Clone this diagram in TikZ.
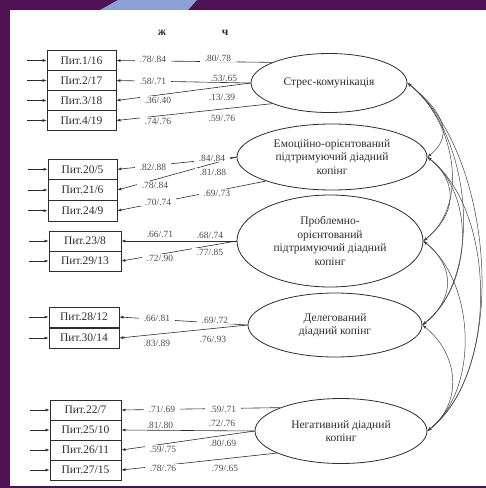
\documentclass[tikz,border=0pt]{standalone}
\usepackage{fontspec}
\setmainfont{Liberation Serif}
\usetikzlibrary{arrows.meta,shapes.geometric}
\definecolor{frame}{RGB}{78,18,84}
\definecolor{glow}{RGB}{140,160,215}
\definecolor{ink}{RGB}{45,45,45}
\begin{document}
\begin{tikzpicture}[x=1pt,y=-1pt,
  item/.style={draw=ink,line width=0.8pt,inner sep=0pt,minimum height=20pt,font=\fontsize{11.5}{13}\selectfont,text=ink},
  factor/.style={draw=ink,line width=0.8pt,ellipse,inner sep=0pt,align=center,font=\fontsize{11.5}{13.5}\selectfont,text=ink},
  load/.style={fill=white,inner xsep=5pt,inner ysep=1pt,font=\fontsize{9.5}{10}\selectfont,text=ink!85},
  inarrow/.style={draw=ink,line width=0.6pt,-{Latex[length=4pt,width=3pt]}},
  cov/.style={draw=ink!90,line width=0.5pt,{Latex[length=4pt,width=3pt]}-{Latex[length=4pt,width=3pt]}},
  hdr/.style={font=\bfseries\fontsize{11.5}{12}\selectfont,text=ink}]
\useasboundingbox (0,0) rectangle (486,488);
\fill[frame] (0,0) rectangle (486,488);
\fill[glow] (118,0) -- (197,0) -- (188,10) -- (100,10) -- cycle;
\fill[white] (10,10) rectangle (486,486);

% headers
\node[hdr] (hz) at (162,33) {ж};
\node[hdr] (hc) at (225,33) {ч};

% item boxes
\node[item,minimum width=69pt] (b1) at (81.5,60.5) {Пит.1/16};
\node[item,minimum width=69pt] (b2) at (81.5,80.5) {Пит.2/17};
\node[item,minimum width=69pt] (b3) at (81.5,100.5) {Пит.3/18};
\node[item,minimum width=69pt] (b4) at (81.5,120.5) {Пит.4/19};
\node[item,minimum width=69pt,minimum height=20.7pt] (b5) at (82.5,169.3) {Пит.20/5};
\node[item,minimum width=69pt,minimum height=20.7pt] (b6) at (82.5,190) {Пит.21/6};
\node[item,minimum width=69pt,minimum height=20.7pt] (b7) at (82.5,210.7) {Пит.24/9};
\node[item,minimum width=72pt] (b8) at (85,241) {Пит.23/8};
\node[item,minimum width=72pt] (b9) at (85,261) {Пит.29/13};
\node[item,minimum width=70pt] (b10) at (84,317) {Пит.28/12};
\node[item,minimum width=70pt] (b11) at (84,338) {Пит.30/14};
\node[item,minimum width=71pt] (b12) at (85.5,410) {Пит.22/7};
\node[item,minimum width=71pt] (b13) at (85.5,430) {Пит.25/10};
\node[item,minimum width=71pt] (b14) at (85.5,450) {Пит.26/11};
\node[item,minimum width=71pt] (b15) at (85.5,470) {Пит.27/15};

% input arrows
\foreach \b in {b1,b2,b3,b4,b5,b6,b7,b8,b9,b10,b11,b12,b13,b14,b15}{
  \coordinate (in\b) at ([xshift=-20pt]\b.west);
  \draw[inarrow] (in\b) -- (\b.west);
}

% factors
\node[factor,minimum width=156pt,minimum height=59pt] (e1) at (329,83) {Стрес-комунікація};
\node[factor,minimum width=190pt,minimum height=66pt] (e2) at (332,157) {Емоційно-орієнтований\\підтримуючий діадний\\копінг};
\node[factor,minimum width=186pt,minimum height=92pt] (e3) at (330,241) {Проблемно-\\орієнтований\\підтримуючий діадний\\копінг};
\node[factor,minimum width=174pt,minimum height=64pt] (e4) at (335,325) {Делегований\\діадний копінг};
\node[factor,minimum width=172pt,minimum height=65pt] (e5) at (341,431) {Негативний діадний\\копінг};

% loadings
\draw[inarrow] (e1.160) -- (b1.east);
\draw[inarrow] (e1.west) -- (b2.east);
\draw[inarrow] (e1.west) -- (b3.east);
\draw[inarrow] (e1.200) -- (b4.east);
\draw[inarrow] (e2.west) -- (b5.east);
\draw[inarrow] (e2.west) -- (b6.east);
\draw[inarrow] (e2.200) -- (b7.east);
\draw[inarrow] (e3.west) -- (b8.east);
\draw[inarrow] (e3.west) -- (b9.east);
\draw[inarrow] (e4.west) -- (b10.east);
\draw[inarrow] (e4.west) -- (b11.east);
\draw[inarrow] (e5.159) -- (b12.east);
\draw[inarrow] (e5.west) -- (b13.east);
\draw[inarrow] (e5.west) -- (b14.east);
\draw[inarrow] (e5.199) -- (b15.east);

% loading labels
\node[load] (l1a) at (153,59) {.78/.84};
\node[load] (l2a) at (153,81) {.58/.71};
\node[load] (l3a) at (158,100) {.36/.40};
\node[load] (l4a) at (158,121) {.74/.76};
\node[load] (l1b) at (218,58) {.80/.78};
\node[load] (l2b) at (224,78) {.53/.65};
\node[load] (l3b) at (222,97) {.13/.39};
\node[load] (l4b) at (222,118) {.59/.76};
\node[load] (l5a) at (153,167) {.82/.88};
\node[load] (l6a) at (155,185) {.78/.84};
\node[load] (l7a) at (158,202) {.70/.74};
\node[load] (l5b) at (212,158) {.84/.84};
\node[load] (l6b) at (213,172) {.81/.88};
\node[load] (l7b) at (217,193) {.69/.73};
\node[load] (l8a) at (160,234) {.66/.71};
\node[load] (l9a) at (160,258) {.72/.90};
\node[load] (l8b) at (210,235) {.68/.74};
\node[load] (l9b) at (210,252) {.77/.85};
\node[load] (l10a) at (157,318) {.66/.81};
\node[load] (l11a) at (157,343) {.83/.89};
\node[load] (l10b) at (215,320) {.69/.72};
\node[load] (l11b) at (213,339) {.76/.93};
\node[load] (l12a) at (162,409) {.71/.69};
\node[load] (l13a) at (160,425) {.81/.80};
\node[load] (l14a) at (163,449) {.59/.75};
\node[load] (l15a) at (163,468) {.78/.76};
\node[load] (l12b) at (223,409) {.59/.71};
\node[load] (l13b) at (222,423) {.72/.76};
\node[load] (l14b) at (223,443) {.80/.69};
\node[load] (l15b) at (225,468) {.79/.65};

% covariances
\draw[cov] (e1.east) .. controls +(30,24) and +(30,-24) .. (e2.east);
\draw[cov] (e1.east) .. controls +(47,38) and +(47,-38) .. (e3.east);
\draw[cov] (e1.east) .. controls +(63,50) and +(63,-50) .. (e4.east);
\draw[cov] (e1.east) .. controls +(84,67) and +(84,-67) .. (e5.east);
\draw[cov] (e2.east) .. controls +(32,26) and +(32,-26) .. (e3.east);
\draw[cov] (e2.east) .. controls +(49,39) and +(49,-39) .. (e4.east);
\draw[cov] (e2.east) .. controls +(70,56) and +(70,-56) .. (e5.east);
\draw[cov] (e3.east) .. controls +(32,26) and +(32,-26) .. (e4.east);
\draw[cov] (e3.east) .. controls +(52,42) and +(52,-42) .. (e5.east);
\draw[cov] (e4.east) .. controls +(36,29) and +(36,-29) .. (e5.east);
\end{tikzpicture}
\end{document}
